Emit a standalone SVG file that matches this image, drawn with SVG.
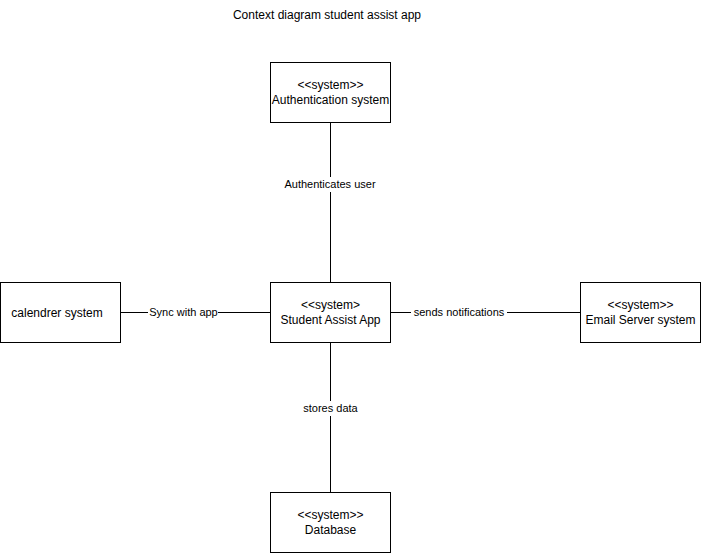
<svg xmlns="http://www.w3.org/2000/svg" width="701" height="553" viewBox="0 0 701 553">
<style>
  text { font-family: "Liberation Sans", Arial, Helvetica, sans-serif; fill: #000; }
  .node rect { fill: #fff; stroke: #000; stroke-width: 1; }
  .node text { font-size: 12px; text-anchor: middle; }
  .edge line { stroke: #000; stroke-width: 1; }
  .lbl rect { fill: #fff; stroke: none; }
  .lbl text { font-size: 11px; text-anchor: middle; }
  .title { font-size: 12px; text-anchor: middle; }
</style>
<rect x="0" y="0" width="701" height="553" fill="#fff"/>
<text class="title" x="327" y="19">Context diagram student assist app</text>
<g id="connectors" class="edge">
  <line x1="330.5" y1="122.5" x2="330.5" y2="282.5"/>
  <line x1="120.5" y1="312.5" x2="270.5" y2="312.5"/>
  <line x1="390.5" y1="312.5" x2="580.5" y2="312.5"/>
  <line x1="330.5" y1="342.5" x2="330.5" y2="492.5"/>
  <g class="lbl">
    <rect x="282" y="177" width="97" height="15"/>
    <text x="330" y="188">Authenticates user</text>
    <rect x="148" y="305" width="70" height="15"/>
    <text x="183.5" y="316">Sync with app</text>
    <rect x="411" y="305" width="96" height="15"/>
    <text x="459" y="316">sends notifications</text>
    <rect x="302" y="401" width="57" height="15"/>
    <text x="330.5" y="412">stores data</text>
  </g>
</g>
<g id="auth" class="node">
  <rect x="270.5" y="62.5" width="120" height="60"/>
  <text x="330.5" y="89">&lt;&lt;system&gt;&gt;</text>
  <text x="330.5" y="104">Authentication system</text>
</g>
<g id="app" class="node">
  <rect x="270.5" y="282.5" width="120" height="60"/>
  <text x="330.5" y="309">&lt;&lt;system&gt;</text>
  <text x="330.5" y="324">Student Assist App</text>
</g>
<g id="calendar" class="node">
  <rect x="0.5" y="282.5" width="120" height="60"/>
  <text x="57" y="316.5">calendrer system</text>
</g>
<g id="email" class="node">
  <rect x="580.5" y="282.5" width="120" height="60"/>
  <text x="640.5" y="309">&lt;&lt;system&gt;&gt;</text>
  <text x="640.5" y="324">Email Server system</text>
</g>
<g id="database" class="node">
  <rect x="270.5" y="492.5" width="120" height="60"/>
  <text x="330.5" y="519">&lt;&lt;system&gt;&gt;</text>
  <text x="330.5" y="534">Database</text>
</g>
</svg>
